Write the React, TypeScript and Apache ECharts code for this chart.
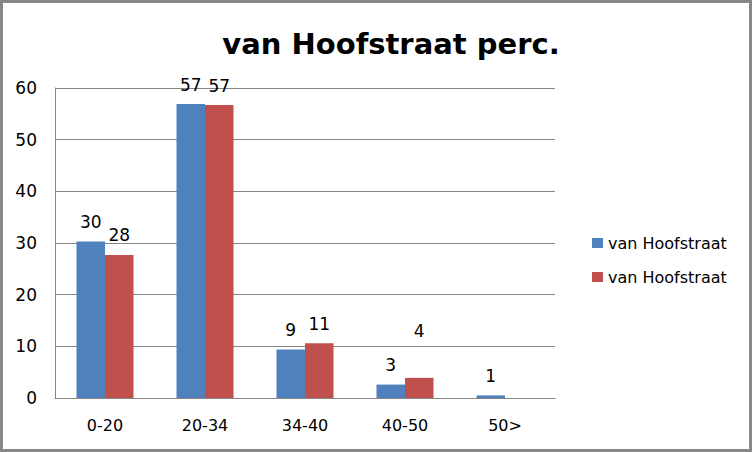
import React, { useEffect, useRef } from "react";
import * as echarts from "echarts";

const categories = ["0-20", "20-34", "34-40", "40-50", "50>"];
const seriesNames = ["van Hoofstraat", "van Hoofstraat"];
const blueValues = [30.3, 56.9, 9.4, 2.6, 0.5];
const redValues = [27.7, 56.7, 10.6, 3.9, 0];
const yTicks = { min: 0, max: 60, interval: 10 };

const FONT = "'DejaVu Sans', sans-serif";

export default function App() {
  const ref = useRef<HTMLDivElement>(null);
  useEffect(() => {
    if (!ref.current) return;
    const chart = echarts.init(ref.current, undefined, { renderer: "svg" });
    const labelCfg = {
      show: true,
      position: "top",
      distance: 11,
      fontSize: 17,
      color: "#000",
      fontFamily: FONT,
      formatter: (p: any) => (p.value > 0 ? String(Math.round(p.value)) : ""),
    };
    chart.setOption({
      animation: false,
      backgroundColor: "#fff",
      textStyle: { fontFamily: FONT },
      title: {
        text: "van Hoofstraat perc.",
        left: 386,
        textAlign: "center",
        top: 24,
        textStyle: { fontSize: 29, fontWeight: "bold", color: "#000", fontFamily: FONT },
      },
      graphic: [
        {
          type: "rect",
          shape: { x: 1.5, y: 1.5, width: 749, height: 449 },
          style: { fill: "none", stroke: "#878787", lineWidth: 3 },
          silent: true,
        },
      ],
      legend: {
        orient: "vertical",
        left: 587,
        top: 230,
        itemWidth: 11,
        itemHeight: 10,
        itemGap: 18,
        icon: "rect",
        textStyle: { fontSize: 16, color: "#000", fontFamily: FONT },
        data: [
          { name: "s1", itemStyle: { color: "#4F81BD" } },
          { name: "s2", itemStyle: { color: "#C0504D" } },
        ],
        formatter: (n: string) => (n === "s1" ? seriesNames[0] : seriesNames[1]),
      },
      grid: { left: 55, right: 197, top: 88, bottom: 54 },
      xAxis: {
        type: "category",
        data: categories,
        axisLine: { lineStyle: { color: "#868686" } },
        axisTick: { show: false },
        axisLabel: { fontSize: 16, color: "#000", margin: 19, fontFamily: FONT },
      },
      yAxis: {
        type: "value",
        min: yTicks.min,
        max: yTicks.max,
        interval: yTicks.interval,
        axisLine: { show: true, lineStyle: { color: "#868686" } },
        axisTick: { show: false },
        splitLine: { lineStyle: { color: "#868686" } },
        axisLabel: { fontSize: 17, color: "#000", margin: 18, fontFamily: FONT },
      },
      series: [
        {
          name: "s1",
          type: "bar",
          data: blueValues,
          barGap: "0%",
          barCategoryGap: "43%",
          itemStyle: { color: "#4F81BD" },
          label: labelCfg,
        },
        {
          name: "s2",
          type: "bar",
          data: redValues.map((v, i) =>
            i === 3 ? { value: v, label: { offset: [0, -27] } } : v
          ),
          barGap: "0%",
          barCategoryGap: "43%",
          itemStyle: { color: "#C0504D" },
          label: labelCfg,
        },
      ],
    });
    return () => chart.dispose();
  }, []);
  return (
    <div
      ref={ref}
      style={{ position: "fixed", left: 0, top: 0, width: 752, height: 452 }}
    />
  );
}
